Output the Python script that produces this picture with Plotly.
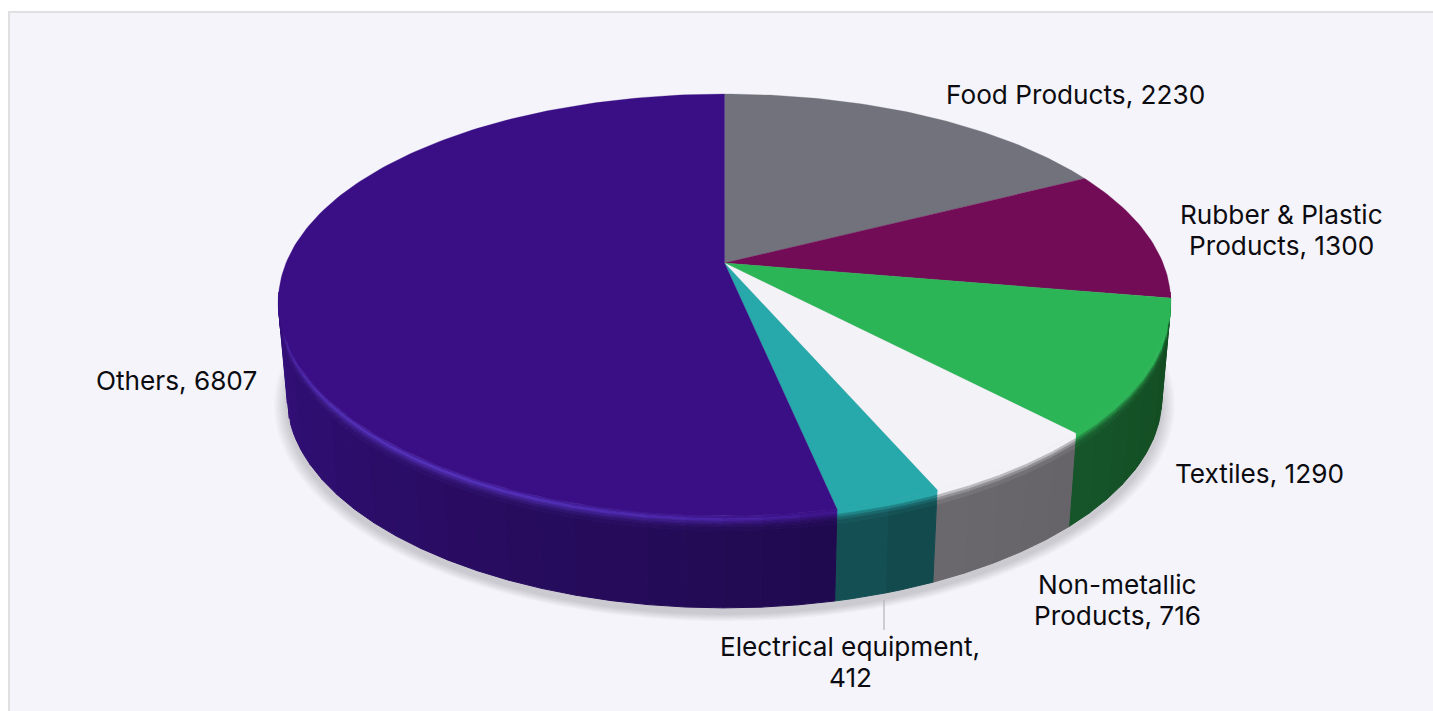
import math
import plotly.graph_objects as go

# ---- data ----
categories = ["Food Products", "Rubber & Plastic<br>Products", "Textiles",
              "Non-metallic<br>Products", "Electrical equipment", "Others"]
values = [2230, 1300, 1290, 716, 412, 6807]
separators = [", ", ", ", ", ", ", ", ",<br>", ", "]

# ---- styles ----
top_colors = ["#71727c", "#720c56", "#2cb556", "#f2f2f7", "#27a8aa", "#3a0f85"]
side_left = ["#3a3a40", "#3c062d", "#16552a", "#6b696e", "#165255", "#330f7a"]
side_right = ["#3a3a40", "#3c062d", "#124c20", "#656368", "#10474c", "#200a4e"]
rim_colors = ["#71727c", "#720c56", "#2cb556", "#f2f2f7", "#27a8aa", "#5230b8"]
label_pos = [(1075, 94), (1281, 230), (1259, 473), (1117, 600), (850, 662), (176, 380)]

BG = "#f4f4fa"
FRAME = "#e0e0e0"
TEXT = "#0b0b10"
CX, CY = 724.5, 263.0      # projected centre of the top face
A, B, PERSP_Y, PERSP_X = 202.6, 438.5, 0.199, 0.185
DEPTH, SHRINK = 97.0, 0.02
FONT = "Inter"
FONT_SIZE = 26.2
LINE_GAP = 31


def project(theta, z=0.0, grow=0.0):
    """Perspective position of a rim point: theta clockwise from 12 o'clock, z 0..1 down the side."""
    u, v = math.sin(theta), -math.cos(theta)
    k = (1 - SHRINK * z) * (1 + grow)
    return CX + B * k * u / (1 - PERSP_X * v), CY + DEPTH * z + A * k * v / (1 - PERSP_Y * v)


def mix(c1, c2, t):
    a = [int(c1[i:i + 2], 16) for i in (1, 3, 5)]
    b = [int(c2[i:i + 2], 16) for i in (1, 3, 5)]
    return "#%02x%02x%02x" % tuple(round(p + (q - p) * t) for p, q in zip(a, b))


def poly(xs, ys, color, lw=0.6):
    return go.Scatter(x=xs, y=ys, mode="lines", fill="toself", fillcolor=color,
                      line=dict(color=color, width=lw), hoverinfo="skip", showlegend=False)


total = sum(values)
edges = [0.0]
for val in values:
    edges.append(edges[-1] + val / total * 2 * math.pi)

fig = go.Figure()

# soft shadow under the base
N = 14
for i in range(N):
    g = (N - i) * 0.0022
    pts = [project(2 * math.pi * j / 180, 1.0, g) for j in range(181)]
    fig.add_trace(go.Scatter(x=[p[0] for p in pts], y=[p[1] + 6 for p in pts], mode="lines",
                             fill="toself", fillcolor="rgba(80,80,110,0.018)",
                             line=dict(width=0), hoverinfo="skip", showlegend=False))

# side wall: angular strips, with a soft bevel band at the top
BANDS = [(0.0, 0.03, "half"), (0.03, 0.06, 0.0), (0.06, 0.09, 0.4), (0.09, 0.12, 0.72), (0.12, 0.16, 0.92)]
for i in range(len(values)):
    t0, t1 = edges[i], edges[i + 1]
    lo, hi = max(t0, math.radians(98)), min(t1, math.radians(262))
    if hi <= lo:
        continue
    steps = max(2, int((hi - lo) / math.radians(4)))
    for s in range(steps):
        a0 = lo + (hi - lo) * s / steps
        a1 = lo + (hi - lo) * (s + 1) / steps
        f = (s + 0.5) / steps
        body = mix(side_right[i], side_left[i], f)
        rim = mix(top_colors[i], rim_colors[i], math.sin(math.pi * f) ** 0.7)
        arc = [a0 + (a1 - a0) * k / 3 for k in range(4)]
        p1 = [project(a, 0.16) for a in arc]
        p2 = [project(a, 1.0) for a in reversed(arc)]
        pts = p1 + p2 + [p1[0]]
        fig.add_trace(poly([p[0] for p in pts], [p[1] for p in pts], body, 1.0))
        for z0, z1, b in BANDS:
            p1 = [project(a, z0) for a in arc]
            p2 = [project(a, z1) for a in reversed(arc)]
            pts = p1 + p2 + [p1[0]]
            col = mix(top_colors[i], rim, 0.5) if b == "half" else mix(rim, body, b)
            fig.add_trace(poly([p[0] for p in pts], [p[1] for p in pts], col, 0.8))

# top face
for i in range(len(values)):
    t0, t1 = edges[i], edges[i + 1]
    n = max(3, int((t1 - t0) / math.radians(1)))
    pts = [(CX, CY)] + [project(t0 + (t1 - t0) * k / n) for k in range(n + 1)] + [(CX, CY)]
    fig.add_trace(poly([p[0] for p in pts], [p[1] for p in pts], top_colors[i], 0.3))

# labels: one annotation per line so the line spacing is independent of the font size
annotations = []
for c, sep, v, (x, y) in zip(categories, separators, values, label_pos):
    lines = f"{c}{sep}{v}".split("<br>")
    for k, line in enumerate(lines):
        annotations.append(dict(
            x=x, y=y + (k - (len(lines) - 1) / 2) * LINE_GAP, xref="x", yref="y", text=line,
            showarrow=False, align="center", xanchor="center", yanchor="middle",
            font=dict(family=FONT, size=FONT_SIZE, color=TEXT)))

shapes = [
    dict(type="rect", xref="x", yref="y", x0=8, x1=1440, y0=11, y1=720, layer="below",
         fillcolor=FRAME, line=dict(width=0)),
    dict(type="rect", xref="x", yref="y", x0=10, x1=1440, y0=13, y1=720, layer="below",
         fillcolor=BG, line=dict(width=0)),
    dict(type="line", xref="x", yref="y", x0=884, x1=884, y0=600, y1=630, layer="above",
         line=dict(color="#b4b4b8", width=1.2)),
]

fig.update_layout(
    width=1433, height=711, margin=dict(l=0, r=0, t=0, b=0),
    paper_bgcolor="#ffffff", plot_bgcolor="#ffffff", showlegend=False,
    xaxis=dict(range=[0, 1433], visible=False, fixedrange=True),
    yaxis=dict(range=[711, 0], visible=False, fixedrange=True),
    annotations=annotations, shapes=shapes,
)

fig.write_html("out.html", config={"displayModeBar": False},
               post_script="document.body.style.margin='0';document.documentElement.style.overflow='hidden';")
